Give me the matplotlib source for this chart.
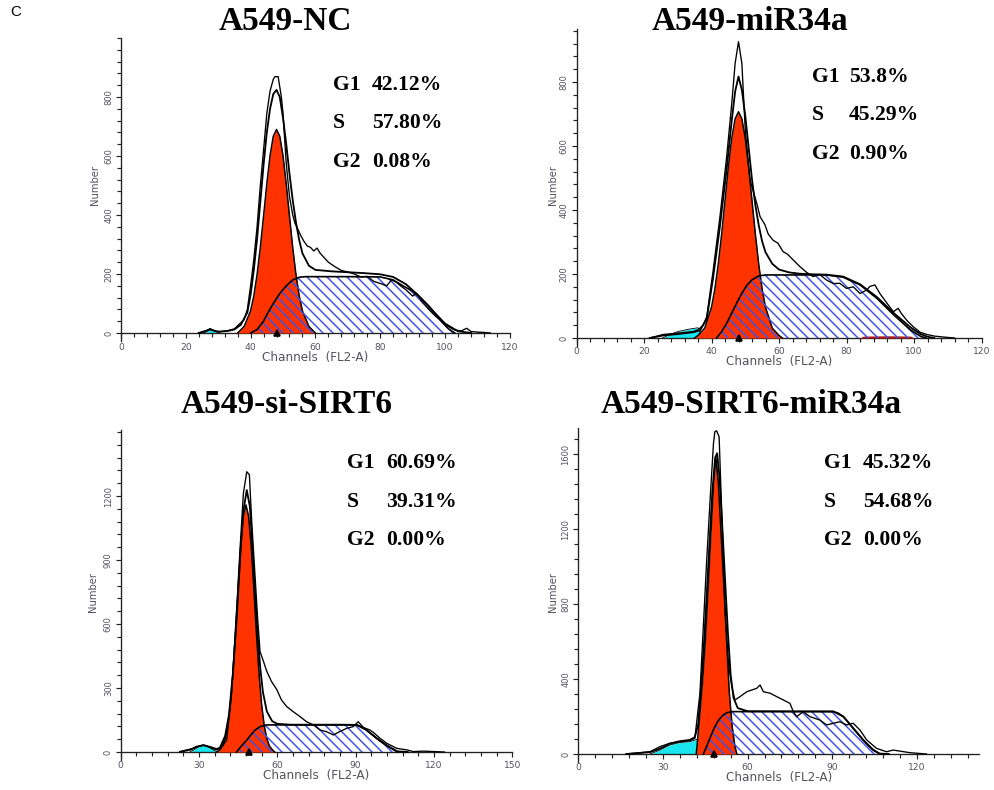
import matplotlib.pyplot as plt
from matplotlib.ticker import MultipleLocator

W, H, DPI = 994, 790, 120

# ---------------- data ----------------
titles = ['A549-NC', 'A549-miR34a', 'A549-si-SIRT6', 'A549-SIRT6-miR34a']
stat_names = ['G1', 'S', 'G2']
nc_stats = ['42.12%', '57.80%', '0.08%']
mir_stats = ['53.8%', '45.29%', '0.90%']
si_stats = ['60.69%', '39.31%', '0.00%']
sm_stats = ['45.32%', '54.68%', '0.00%']
g1_mark = [48, 48, 49, 48]

# A549-NC
nc_raw_x = [24, 26, 27.5, 29, 31, 33, 35, 36.5, 38, 39, 40, 41, 42, 43, 44, 45, 46, 47, 47.5, 48.5,
            49.5, 50, 51, 52, 53, 53.7, 54.7, 55.5, 56.5, 57.5, 58.5, 59.5, 60.5, 61.5, 62.5, 64, 66, 68,
            70, 72, 74, 76, 78, 80, 82, 83.5, 85, 86.5, 88, 90, 91.2, 93, 95, 97, 99, 101, 103, 105,
            106.7, 108, 110, 112, 114]
nc_raw_y = [0, 5, 15, 6, 5, 8, 14, 30, 45, 80, 160, 250, 360, 500, 620, 744, 820, 860, 869, 869,
            800, 744, 575, 462, 400, 372, 349, 330, 310, 295, 290, 278, 288, 270, 258, 240, 225, 212,
            207, 200, 190, 192, 175, 168, 160, 180, 172, 158, 146, 125, 135, 105, 80, 58, 40, 22, 10, 7,
            16, 5, 3, 2, 0]
nc_fit_x = [24, 27.5, 30, 33, 35, 37, 39, 40, 41, 42, 43, 44, 45, 46, 47, 48, 49, 50, 51, 52, 53, 54,
            55, 56, 58, 60, 65, 70, 75, 80, 84, 88, 92, 96, 100, 104, 108]
nc_fit_y = [0, 12, 4, 7, 12, 28, 70, 130, 215, 320, 445, 570, 680, 760, 810, 824, 800, 730, 640, 540,
            450, 375, 315, 270, 228, 214, 209, 206, 203, 199, 190, 165, 125, 78, 32, 6, 0]
nc_g1_x = [36, 38, 40, 41, 42, 43, 44, 45, 46, 47, 48, 49, 50, 51, 52, 53, 54, 55, 56, 58, 60]
nc_g1_y = [0, 22, 75, 126, 198, 290, 396, 505, 601, 667, 690, 667, 601, 505, 396, 290, 198, 126, 75, 22, 0]
nc_s_x = [40, 42, 44, 45, 47, 49, 51, 53, 55, 57, 70, 80, 84, 87, 90, 93, 95, 97, 99, 101, 103]
nc_s_y = [0, 12, 40, 62, 100, 134, 160, 180, 189, 191, 191, 190, 180, 160, 142, 113, 92, 65, 38, 15, 0]
nc_deb_x = [25.5, 27, 28, 29, 30.5]
nc_deb_y = [0, 8, 12, 6, 0]

# A549-miR34a
mir_raw_x = [21.7, 25.7, 29.7, 34.6, 36.1, 37.5, 38.6, 40.5, 42.5, 44.5, 46, 47, 48, 49, 50, 51.4,
             53.4, 54.4, 55.8, 56.8, 58.2, 59.7, 61.2, 62.5, 64.2, 66.2, 68.2, 70.1, 72.1, 74.1, 76.1,
             78, 80, 82, 84, 86, 86.9, 88.4, 89.9, 91.9, 93.9, 95.3, 96.3, 97.8, 99.8, 101.8, 103.8,
             106, 108.7, 112]
mir_raw_y = [0, 11, 15, 20, 26, 40, 67, 212, 379, 567, 733, 858, 926, 858, 650, 494, 421, 379, 355,
             325, 306, 296, 270, 262, 244, 223, 205, 192, 198, 181, 170, 171, 155, 160, 139, 150, 161,
             166, 139, 110, 82, 93, 76, 56, 35, 18, 11, 6, 3, 0]
mir_fit_x = [21.7, 25.7, 29.7, 34.6, 36.6, 38.6, 40.5, 42.5, 44.5, 46, 47, 48, 49, 50, 51, 52, 53, 54,
             55, 56, 58, 60, 63, 66, 70, 74, 79, 84, 89, 94, 99, 102, 104, 106]
mir_fit_y = [0, 8, 12, 18, 24, 60, 190, 350, 530, 680, 770, 817, 775, 695, 595, 495, 415, 352, 302,
             268, 232, 214, 205, 201, 199, 198, 192, 168, 128, 78, 33, 12, 4, 0]
mir_g1_x = [35, 36, 38, 40, 41, 42, 43, 44, 45, 46, 47, 48, 49, 50, 51, 52, 53, 54, 55, 56, 58, 60, 61]
mir_g1_y = [0, 8, 31, 96, 153, 230, 324, 429, 534, 624, 685, 707, 685, 624, 534, 429, 324, 230, 153,
            96, 31, 8, 0]
mir_s_x = [41.5, 43, 44.5, 46, 47.5, 49, 50.5, 52, 54, 56, 74, 79, 84, 89, 94, 99, 102, 103.5]
mir_s_y = [0, 20, 46, 78, 110, 140, 165, 182, 194, 197, 197, 190, 166, 124, 72, 25, 5, 0]
mir_deb_x = [25.5, 27.5, 30, 33, 36, 37.5]
mir_deb_y = [0, 10, 20, 27, 32, 0]
mir_g2_x = [84, 85, 92, 99, 100]
mir_g2_y = [0, 6, 7, 6, 0]

# A549-si-SIRT6
si_raw_x = [22.7, 27.8, 31.7, 34.2, 36.7, 38, 40.6, 42.5, 44.4, 45.7, 47, 48.3, 49.3, 50.2, 51.5,
            52.5, 53.4, 54.7, 55.9, 57.8, 59.7, 61.6, 63.6, 66.1, 68.7, 71.2, 73.8, 76.4, 78.9, 81.5,
            84, 86.6, 89.1, 91, 93, 95.5, 96.8, 99.4, 101.9, 105.8, 109.6, 112.1, 116, 120, 124]
si_raw_y = [2, 17, 33, 22, 10, 10, 56, 275, 666, 947, 1212, 1314, 1300, 1080, 820, 620, 470, 425,
            380, 330, 295, 244, 213, 189, 166, 142, 127, 103, 95, 80, 96, 111, 119, 142, 115, 103, 92,
            64, 41, 17, 10, 2, 4, 2, 0]
si_fit_x = [22.7, 27, 29, 31.7, 34.2, 36.7, 38, 40, 41.5, 43, 44.5, 46, 47, 48.3, 49.5, 50.5, 51.5,
            52.5, 53.5, 54.5, 56, 58, 60, 65, 75, 85, 90.4, 94, 98, 102, 106, 110]
si_fit_y = [0, 12, 25, 32, 24, 14, 20, 75, 175, 370, 640, 960, 1130, 1228, 1150, 960, 740, 540, 390,
            280, 190, 145, 132, 128, 128, 128, 127, 104, 66, 30, 3, 0]
si_g1_x = [37, 38, 39, 40, 41, 42, 43, 44, 45, 46, 47, 48, 49, 50, 51, 52, 53, 54, 55, 56, 57, 58, 59]
si_g1_y = [0, 12, 28, 62, 123, 222, 368, 556, 766, 964, 1106, 1158, 1106, 964, 766, 556, 368, 222,
           123, 62, 28, 12, 0]
si_s_x = [44.4, 46, 48.3, 50, 51.5, 53.4, 55.9, 90.4, 92.5, 94.2, 96, 98, 100, 102, 104, 106]
si_s_y = [0, 25, 56, 82, 103, 119, 127, 127, 117, 103, 85, 64, 46, 30, 15, 0]
si_deb_x = [26.5, 28, 30, 31.7, 33.5, 35.5, 37]
si_deb_y = [0, 10, 25, 31, 24, 10, 0]

# A549-SIRT6-miR34a
sm_raw_x = [17.1, 25.4, 28.9, 32.4, 35.9, 39.5, 41.3, 43.1, 44.3, 45.5, 46.7, 47.9, 48.4, 49, 49.9,
            50.8, 52, 53.2, 54.4, 55.5, 57.3, 59.7, 61.4, 63.2, 64.4, 65.6, 68, 70.3, 72.7, 75, 76.2,
            77.4, 79.7, 82.1, 85.6, 88, 90.4, 92.7, 95.1, 97.4, 99.8, 102.2, 105.7, 109.2, 111.6,
            117.5, 123.4]
sm_raw_y = [0, 12, 39, 57, 66, 71, 84, 323, 679, 1034, 1354, 1657, 1719, 1724, 1692, 1301, 768, 484,
            359, 288, 306, 332, 341, 350, 368, 332, 324, 306, 288, 270, 226, 199, 226, 199, 181, 155,
            164, 172, 155, 164, 128, 75, 30, 12, 21, 7, 0]
sm_fit_x = [17, 25.4, 28.9, 32.4, 35.9, 39.5, 41.3, 42.5, 43.5, 44.5, 45.5, 46.5, 47.5, 48.5, 49.2,
            50, 51, 52, 53, 54, 55, 56.5, 60, 90.4, 93.9, 97.4, 100.9, 104.5, 106.8, 110]
sm_fit_y = [0, 10, 28, 55, 68, 75, 90, 160, 360, 580, 850, 1130, 1400, 1580, 1604, 1480, 1220, 930,
            650, 420, 300, 245, 228, 227, 200, 138, 76, 22, 2, 0]
sm_g1_x = [41.8, 43, 44, 45, 46, 47, 48, 48.8, 49.6, 50.5, 51.5, 52.5, 53.5, 54.5, 55.5, 56.2]
sm_g1_y = [0, 200, 380, 600, 880, 1180, 1460, 1577, 1450, 1200, 920, 620, 330, 150, 40, 0]
sm_s_x = [44.3, 45.2, 46.2, 47.2, 48.2, 49.2, 50.2, 51.4, 52.6, 54.4, 90.4, 92.2, 93.9, 95.6, 97.4,
          99.2, 100.9, 102.7, 104.5, 106.8]
sm_s_y = [0, 30, 68, 105, 140, 168, 190, 208, 220, 226, 226, 217, 199, 170, 137, 106, 75, 46, 21, 0]
sm_deb_x = [25.4, 28.9, 32.4, 35.9, 39.5, 41.3, 42.5, 43.5]
sm_deb_y = [0, 21, 48, 61, 66, 75, 80, 0]

RED = '#ff3300'
CYAN = '#19e6ee'
BLUE = '#3f52e0'
GREY = '#56525e'
SERIF = 'Liberation Serif'

plt.rcParams['hatch.linewidth'] = 0.9

panels = [
    dict(raw=(nc_raw_x, nc_raw_y), fit=(nc_fit_x, nc_fit_y), g1=(nc_g1_x, nc_g1_y),
         s=(nc_s_x, nc_s_y), deb=(nc_deb_x, nc_deb_y), g2=None, stats=nc_stats,
         frame=(121, 3.24, (0, 120), 333, 0.295, (-27, 1000)), yt=(200, 40, 800), xt=(20, 4, 120),
         title=(285, 22), txt=(333, 372, 85), num=(95, 185)),
    dict(raw=(mir_raw_x, mir_raw_y), fit=(mir_fit_x, mir_fit_y), g1=(mir_g1_x, mir_g1_y),
         s=(mir_s_x, mir_s_y), deb=(mir_deb_x, mir_deb_y), g2=(mir_g2_x, mir_g2_y), stats=mir_stats,
         frame=(576.5, 3.375, (0, 120), 338, 0.32, (-25, 965)), yt=(200, 40, 800), xt=(20, 4, 120),
         title=(750, 22), txt=(812, 849, 77), num=(553, 185)),
    dict(raw=(si_raw_x, si_raw_y), fit=(si_fit_x, si_fit_y), g1=(si_g1_x, si_g1_y),
         s=(si_s_x, si_s_y), deb=(si_deb_x, si_deb_y), g2=None, stats=si_stats,
         frame=(120.7, 2.61, (0, 150), 752, 0.2133, (-38, 1510)), yt=(300, 60, 1200), xt=(30, 6, 150),
         title=(287, 405), txt=(347, 386, 463), num=(93, 592)),
    dict(raw=(sm_raw_x, sm_raw_y), fit=(sm_fit_x, sm_fit_y), g1=(sm_g1_x, sm_g1_y),
         s=(sm_s_x, sm_s_y), deb=(sm_deb_x, sm_deb_y), g2=None, stats=sm_stats,
         frame=(578.3, 2.822, (0, 142), 754, 0.1875, (-43, 1740)), yt=(400, 80, 1600), xt=(30, 6, 120),
         title=(751, 405), txt=(824, 863, 463), num=(553, 592)),
]


def rect(x0, xs, xlim, y0, ys, ylim):
    left = x0 + xs * xlim[0]
    right = x0 + xs * xlim[1]
    bottom = y0 - ys * ylim[0]
    top = y0 - ys * ylim[1]
    return [left / W, 1 - bottom / H, (right - left) / W, (bottom - top) / H]


def ftext(x, y, s, **kw):
    fig.text(x / W, 1 - y / H, s, **kw)


fig = plt.figure(figsize=(W / DPI, H / DPI), dpi=DPI)

for i, p in enumerate(panels):
    x0, xs, xlim, y0, ys, ylim = p['frame']
    ax = fig.add_axes(rect(*p['frame']))
    ax.set_xlim(*xlim)
    ax.set_ylim(*ylim)

    dx, dy = p['deb']
    ax.fill_between(dx, dy, color=CYAN, lw=0, zorder=2)
    ax.plot(dx, dy, color='k', lw=0.5, zorder=2.1)
    gx, gy = p['g1']
    ax.fill_between(gx, gy, color=RED, lw=0, zorder=3)
    ax.plot(gx, gy, color='k', lw=0.9, zorder=3.1)
    if p['g2'] is not None:
        ax.fill_between(p['g2'][0], p['g2'][1], color='#b01818', lw=0, zorder=3)
    sx, sy = p['s']
    ax.fill_between(sx, sy, facecolor='none', edgecolor=BLUE, hatch='\\\\\\\\', lw=0, zorder=4)
    ax.plot(sx, sy, color='k', lw=1.0, zorder=4.1)
    ax.plot(*p['fit'], color='k', lw=1.1, zorder=5)
    ax.plot(*p['raw'], color='k', lw=0.8, zorder=6)
    ax.plot([g1_mark[i]], [0], marker='^', ms=3.5, color='k', clip_on=False, zorder=7)

    for side in ('top', 'right'):
        ax.spines[side].set_visible(False)
    ax.spines['bottom'].set_position(('data', 0))
    for side in ('left', 'bottom'):
        ax.spines[side].set_linewidth(0.8)
        ax.spines[side].set_color('#222222')

    ystep, yminor, ymax = p['yt']
    ax.set_yticks(range(0, ymax + 1, ystep))
    ax.yaxis.set_minor_locator(MultipleLocator(yminor))
    xstep, xminor, xmax = p['xt']
    ax.set_xticks(range(0, xmax + 1, xstep))
    ax.xaxis.set_minor_locator(MultipleLocator(xminor))
    ax.tick_params(which='major', length=3.2, width=0.7, color='#222222', labelcolor=GREY)
    ax.tick_params(which='minor', length=2.2, width=0.7, color='#222222')
    ax.tick_params(axis='x', labelsize=5.5, pad=2.5)
    ax.tick_params(axis='y', labelsize=5, pad=1.5, labelrotation=90)
    for lab in ax.get_yticklabels():
        lab.set_va('center')
    ax.patch.set_alpha(0)

    cx = x0 + xs * (xlim[0] + xlim[1]) / 2
    ftext(cx, y0 + 24, 'Channels  (FL2-A)', ha='center', va='center', fontsize=7.2, color=GREY)
    ftext(p['num'][0], p['num'][1], 'Number', ha='center', va='center', rotation=90,
          fontsize=6, color=GREY)

    ftext(p['title'][0], p['title'][1], titles[i], ha='center', va='center',
          fontsize=20, fontweight='bold', family=SERIF)
    nx, vx, ty = p['txt']
    for k, name in enumerate(stat_names):
        ftext(nx, ty + 38.5 * k, name, ha='left', va='center', fontsize=13,
              fontweight='bold', family=SERIF)
        ftext(vx, ty + 38.5 * k, p['stats'][k], ha='left', va='center', fontsize=13,
              fontweight='bold', family=SERIF)

ftext(10, 12, 'C', ha='left', va='center', fontsize=9, family='Liberation Sans')

fig.savefig('out.png', dpi=DPI)
